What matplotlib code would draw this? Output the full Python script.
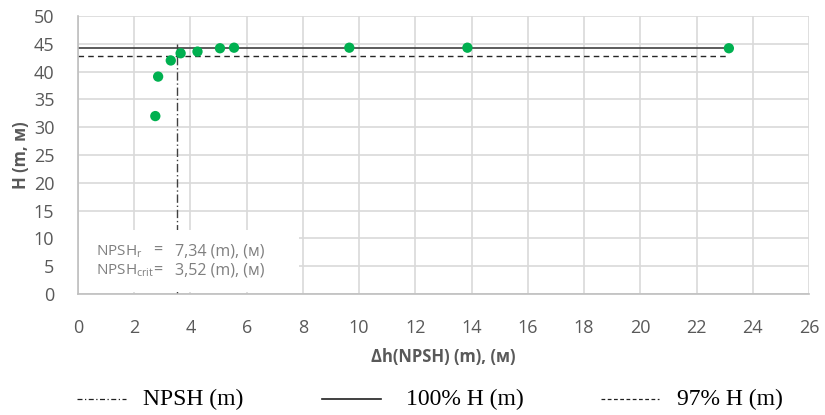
import matplotlib
matplotlib.use("Agg")
import matplotlib.pyplot as plt
from matplotlib.lines import Line2D
from matplotlib.patches import Rectangle

# Data
dh_npsh = [2.75, 2.85, 3.3, 3.65, 4.25, 5.05, 5.55, 9.65, 13.85, 23.15]
head = [32.0, 39.1, 42.0, 43.3, 43.6, 44.2, 44.3, 44.3, 44.3, 44.2]
h100 = 44.2
h97 = 0.97 * h100
npsh_crit = 3.52
npsh_r_text = "7,34"
npsh_crit_text = "3,52"
x_ticks = list(range(0, 27, 2))
y_ticks = list(range(0, 51, 5))

fig = plt.figure(figsize=(8.25, 4.15), dpi=100)
ax = fig.add_axes([78/825, 1-294/415, (809-78)/825, (294-16)/415])

grid_c = "#d9d9d9"
ax.set_xlim(0, 26)
ax.set_ylim(0, 50)
ax.set_xticks(x_ticks)
ax.set_yticks(y_ticks)
ax.grid(True, color=grid_c, linewidth=1.2)
ax.set_axisbelow(True)
for s in ["top", "right"]:
    ax.spines[s].set_visible(False)
for s in ["left", "bottom"]:
    ax.spines[s].set_color("#bfbfbf")
    ax.spines[s].set_linewidth(1.2)
ax.tick_params(length=0, labelsize=13, colors="#595959")
ax.tick_params(axis="x", pad=18)
ax.tick_params(axis="y", pad=17)
for lab in ax.get_xticklabels() + ax.get_yticklabels():
    lab.set_family("Open Sans")

xmax = max(dh_npsh)
ax.plot([0, xmax], [h100, h100], color="#404040", linewidth=1.2, zorder=2)
ax.plot([0, xmax], [h97, h97], color="#262626", linewidth=1.0, linestyle=(0, (4, 3)), zorder=2)
ax.plot([npsh_crit, npsh_crit], [0, 45], color="#404040", linewidth=1.0,
        linestyle=(0, (6, 2, 1, 2)), zorder=2)

ax.scatter(dh_npsh, head, s=55, color="#00b050", zorder=3, edgecolors="none")

# white text box covering grid
ax.add_patch(Rectangle((0.05, 0.4), 7.8, 11.2, facecolor="white", edgecolor="none", zorder=4))

ax.set_xlabel("Δh(NPSH) (m), (м)", fontsize=12, fontweight="bold", color="#595959",
              family="Open Sans", labelpad=8)
ax.set_ylabel("H (m, м)", fontsize=12, fontweight="bold", color="#595959",
              family="Open Sans", labelpad=3)

tc = "#7f7f7f"
fs = 11
fv = 11.5
ax.text(0.65, 7.7, "NPSH$_\\mathregular{r}$", fontsize=fs, color=tc, family="Open Sans", va="center", zorder=5)
ax.text(0.65, 4.2, "NPSH$_\\mathregular{crit}$", fontsize=fs, color=tc, family="Open Sans", va="center", zorder=5)
ax.text(2.68, 7.7, "=", fontsize=fv, color=tc, family="Open Sans", va="center", zorder=5)
ax.text(2.68, 4.2, "=", fontsize=fv, color=tc, family="Open Sans", va="center", zorder=5)
ax.text(3.45, 7.7, npsh_r_text + " (m), (м)", fontsize=fv, color=tc, family="Open Sans", va="center", zorder=5)
ax.text(3.45, 4.2, npsh_crit_text + " (m), (м)", fontsize=fv, color=tc, family="Open Sans", va="center", zorder=5)

# Legend below
ly = 1 - 399/415
def leg(x0, x1, ls, lw, tx, label):
    fig.add_artist(Line2D([x0/825, x1/825], [ly, ly], color="#202020", linewidth=lw, linestyle=ls))
    fig.text(tx/825, ly, label, fontsize=17, family="Liberation Serif", va="center", ha="left", color="black")

leg(77, 126, (0, (4, 2, 1, 2)), 0.9, 143, "NPSH (m)")
leg(322, 381, "-", 1.2, 406, "100% H (m)")
leg(601, 659, (0, (3, 2)), 0.9, 677, "97% H (m)")

fig.savefig("out.png", dpi=100)
